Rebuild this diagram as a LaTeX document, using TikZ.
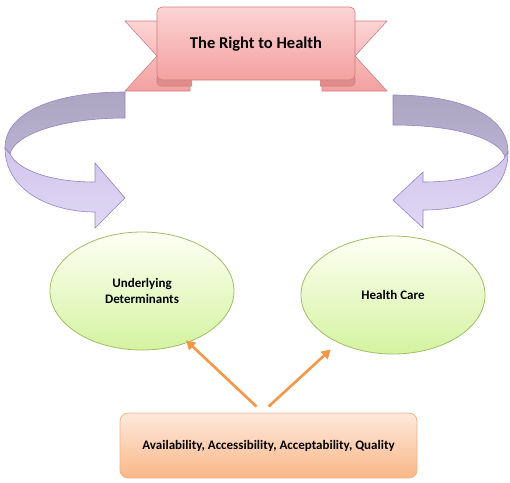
\documentclass[tikz,border=0pt]{standalone}
\usepackage{fontspec}
\setmainfont{Carlito}
\usetikzlibrary{shapes.geometric,arrows.meta}
\definecolor{ribbonline}{RGB}{210,125,125}
\definecolor{ribbontop}{RGB}{252,212,212}
\definecolor{ribbonbottom}{RGB}{244,160,160}
\definecolor{ribbonfold}{RGB}{222,140,140}
\definecolor{swirlline}{RGB}{150,130,200}
\definecolor{swirlback}{RGB}{172,166,194}
\definecolor{swirlfront}{RGB}{216,204,242}
\definecolor{ellipseline}{RGB}{160,190,100}
\definecolor{availline}{RGB}{245,180,135}
\definecolor{orangearrow}{RGB}{247,150,70}
\tikzset{
  ribbon part/.style={draw=ribbonline, line width=0.6pt, top color=ribbontop, bottom color=ribbonbottom},
  ribbon fold/.style={draw=ribbonline, line width=0.6pt, fill=ribbonfold},
  swirl back/.style={draw=swirlline, line width=0.6pt, top color=swirlback, bottom color=swirlback!70!swirlfront},
  swirl front/.style={draw=swirlline, line width=0.6pt, top color=swirlfront!85!swirlback, bottom color=swirlfront!80!white},
  green ellipse/.style={ellipse, draw=ellipseline, line width=0.8pt,
    top color=green!6!yellow!4!white, bottom color={rgb,255:red,212;green,243;blue,160},
    minimum width=184pt, minimum height=118pt, inner sep=0pt, align=center,
    font=\bfseries\fontsize{13}{16}\selectfont},
  orange box/.style={draw=availline, line width=0.8pt, rounded corners=8pt,
    top color={rgb,255:red,253;green,233;blue,220}, bottom color={rgb,255:red,250;green,183;blue,135},
    minimum width=297pt, minimum height=65pt, inner sep=0pt,
    font=\bfseries\fontsize{13}{15}\selectfont},
  orange arrow/.style={draw=orangearrow, line width=2.6pt, -{Triangle[length=9pt,width=10pt]}}
}
\begin{document}
\begin{tikzpicture}[x=1pt, y=-1pt]
  \useasboundingbox (0,0) rectangle (510,482);

  % ribbon: tails, folds, body
  \draw[ribbon part] (125,21) -- (190,21) -- (190,91) -- (125,91) -- (157,56) -- cycle;
  \draw[ribbon part] (387,21) -- (322,21) -- (322,91) -- (387,91) -- (355,56) -- cycle;
  \draw[ribbon fold, rounded corners=4pt] (192,74) -- (157,74) -- (157,86) -- (192,86);
  \draw[ribbon fold, rounded corners=4pt] (320,74) -- (355,74) -- (355,86) -- (320,86);
  \draw[ribbon part, rounded corners=5pt] (157,80) -- (157,7) -- (355,7) -- (355,80) -- cycle;
  \node (title) at (256,44) {\bfseries\fontsize{16.5}{19}\selectfont The Right to Health};

  % left swirl
  \draw[swirl back] (125,92) .. controls (55,92) and (5,112) .. (5,148)
    -- (10,154) .. controls (14,135) and (60,118) .. (125,118) -- cycle;
  \draw[swirl front] (5,148) .. controls (5,190) and (50,212) .. (95,212)
    -- (95,228) -- (125,198) -- (95,163) -- (95,182)
    .. controls (50,182) and (18,170) .. (10,154) -- cycle;

  % right swirl
  \draw[swirl back] (393,95) .. controls (460,95) and (508,115) .. (508,152)
    -- (505,157) .. controls (500,140) and (460,125) .. (393,125) -- cycle;
  \draw[swirl front] (508,152) .. controls (508,195) and (470,210) .. (423,210)
    -- (423,228) -- (393,200) -- (423,172) -- (423,182)
    .. controls (470,182) and (498,170) .. (505,157) -- cycle;

  \node[green ellipse] (under) at (142,291) {Underlying\\Determinants};
  \node[green ellipse] (care) at (393,295) {Health Care};
  \node[orange box] (avail) at (268.5,445.5) {Availability, Accessibility, Acceptability, Quality};

  \draw[orange arrow, shorten >=-3pt] ([xshift=-12pt,yshift=6pt]avail.north) -- (under.-48);
  \draw[orange arrow, shorten >=10pt] ([yshift=6pt]avail.north) -- (care.-139);
\end{tikzpicture}
\end{document}
